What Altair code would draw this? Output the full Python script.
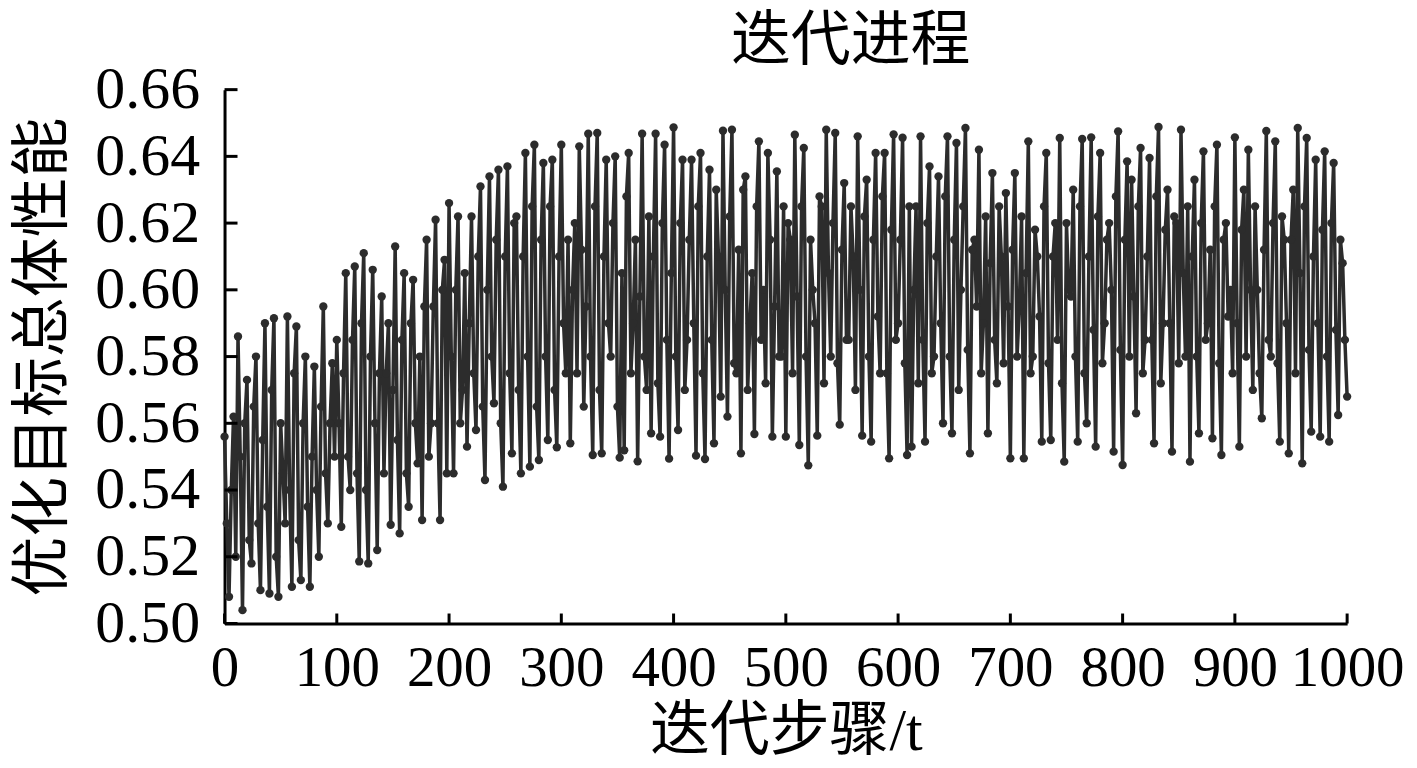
import altair as alt
import pandas as pd

# iteration performance values
# perf_XXX : values at steps XXX, XXX+4, ... (every 4 steps)
perf_000 = [0.556, 0.508, 0.562, 0.586, 0.504, 0.573, 0.518, 0.580, 0.510, 0.590,
            0.509, 0.5915, 0.508, 0.545, 0.592, 0.511, 0.589, 0.513, 0.580, 0.511,
            0.577, 0.520, 0.595, 0.530, 0.578]
perf_100 = [0.585, 0.529, 0.605, 0.540, 0.607, 0.5186, 0.611, 0.518, 0.606, 0.522,
            0.598, 0.575, 0.5296, 0.613, 0.527, 0.605, 0.535, 0.603, 0.548, 0.531,
            0.615, 0.560, 0.621, 0.531, 0.609]
perf_200 = [0.626, 0.545, 0.622, 0.570, 0.553, 0.622, 0.558, 0.631, 0.543, 0.634,
            0.566, 0.636, 0.541, 0.637, 0.551, 0.622, 0.545, 0.641, 0.547, 0.6435,
            0.549, 0.638, 0.555, 0.639, 0.5528]
perf_300 = [0.6435, 0.575, 0.554, 0.620, 0.643, 0.565, 0.6468, 0.5505, 0.647, 0.551,
            0.639, 0.580, 0.640, 0.5497, 0.5519, 0.641, 0.590, 0.5486, 0.6468, 0.570,
            0.557, 0.6468, 0.556, 0.6435, 0.5494]
perf_400 = [0.6487, 0.558, 0.639, 0.585, 0.639, 0.5503, 0.641, 0.5493, 0.636, 0.554,
            0.610, 0.6477, 0.562, 0.648, 0.575, 0.551, 0.634, 0.590, 0.5568, 0.6445,
            0.600, 0.641, 0.556, 0.6355, 0.580]
perf_500 = [0.556, 0.615, 0.6465, 0.5535, 0.6425, 0.5474, 0.600, 0.5563, 0.625, 0.648,
            0.580, 0.647, 0.5596, 0.632, 0.585, 0.610, 0.646, 0.5563, 0.633, 0.5545,
            0.641, 0.575, 0.641, 0.5495, 0.6466]
perf_600 = [0.590, 0.6456, 0.5505, 0.553, 0.625, 0.646, 0.5545, 0.637, 0.580, 0.634,
            0.560, 0.646, 0.557, 0.644, 0.600, 0.6485, 0.551, 0.615, 0.642, 0.590,
            0.557, 0.635, 0.572, 0.610, 0.629]
perf_700 = [0.5495, 0.635, 0.595, 0.5495, 0.6445, 0.580, 0.610, 0.5545, 0.641, 0.555,
            0.620, 0.6455, 0.5485, 0.600, 0.630, 0.5545, 0.6452, 0.560, 0.6457, 0.553,
            0.641, 0.590, 0.620, 0.5515, 0.6475]
perf_800 = [0.5475, 0.6385, 0.633, 0.563, 0.6425, 0.585, 0.6395, 0.554, 0.6488, 0.590,
            0.630, 0.5515, 0.620, 0.648, 0.580, 0.5485, 0.633, 0.557, 0.6415, 0.590,
            0.5555, 0.6435, 0.5505, 0.620, 0.600]
perf_900 = [0.6457, 0.553, 0.630, 0.642, 0.570, 0.600, 0.5615, 0.6476, 0.580, 0.6445,
            0.5545, 0.615, 0.551, 0.630, 0.6485, 0.548, 0.6455, 0.5575, 0.639, 0.556,
            0.6415, 0.5545, 0.638, 0.5625, 0.608, 0.568]

# mid_XXX : values at steps XXX+2, XXX+6, ... (in between the above)
mid_000 = [0.530, 0.540, 0.520, 0.550, 0.560, 0.525, 0.565, 0.530, 0.555, 0.535,
           0.570, 0.520, 0.560, 0.530, 0.540, 0.575, 0.525, 0.560, 0.535, 0.550,
           0.540, 0.565, 0.545, 0.560, 0.550]
mid_100 = [0.560, 0.575, 0.550, 0.585, 0.545, 0.590, 0.540, 0.580, 0.560, 0.575,
           0.545, 0.590, 0.570, 0.555, 0.585, 0.545, 0.590, 0.560, 0.580, 0.595,
           0.550, 0.595, 0.560, 0.600, 0.545]
mid_200 = [0.580, 0.600, 0.560, 0.605, 0.590, 0.575, 0.610, 0.565, 0.600, 0.580,
           0.615, 0.560, 0.610, 0.575, 0.620, 0.570, 0.610, 0.580, 0.625, 0.565,
           0.615, 0.580, 0.625, 0.570, 0.610]
mid_300 = [0.590, 0.615, 0.600, 0.575, 0.612, 0.595, 0.580, 0.625, 0.570, 0.610,
           0.590, 0.620, 0.565, 0.605, 0.628, 0.575, 0.615, 0.598, 0.580, 0.622,
           0.610, 0.572, 0.620, 0.585, 0.605]
mid_400 = [0.580, 0.620, 0.570, 0.615, 0.590, 0.625, 0.575, 0.610, 0.585, 0.630,
           0.568, 0.600, 0.622, 0.578, 0.612, 0.630, 0.570, 0.605, 0.625, 0.585,
           0.572, 0.615, 0.595, 0.580, 0.625]
mid_500 = [0.620, 0.575, 0.598, 0.625, 0.580, 0.615, 0.590, 0.628, 0.572, 0.605,
           0.620, 0.578, 0.612, 0.585, 0.625, 0.570, 0.600, 0.622, 0.580, 0.615,
           0.592, 0.628, 0.575, 0.618, 0.585]
mid_600 = [0.615, 0.578, 0.625, 0.600, 0.572, 0.585, 0.620, 0.575, 0.610, 0.590,
           0.628, 0.580, 0.615, 0.570, 0.625, 0.582, 0.612, 0.595, 0.575, 0.622,
           0.608, 0.585, 0.625, 0.578, 0.595]
mid_700 = [0.612, 0.580, 0.622, 0.605, 0.575, 0.618, 0.592, 0.625, 0.578, 0.610,
           0.585, 0.572, 0.620, 0.598, 0.580, 0.625, 0.575, 0.610, 0.588, 0.622,
           0.578, 0.615, 0.600, 0.628, 0.582]
mid_800 = [0.615, 0.580, 0.598, 0.625, 0.575, 0.610, 0.585, 0.628, 0.572, 0.618,
           0.590, 0.622, 0.578, 0.605, 0.625, 0.610, 0.580, 0.620, 0.585, 0.612,
           0.625, 0.578, 0.615, 0.592, 0.575]
mid_900 = [0.590, 0.618, 0.580, 0.600, 0.625, 0.575, 0.612, 0.585, 0.620, 0.578,
           0.622, 0.590, 0.615, 0.575, 0.605, 0.625, 0.582, 0.610, 0.590, 0.618,
           0.580, 0.620, 0.588, 0.615, 0.585]

y_ticks = [0.50, 0.52, 0.54, 0.56, 0.58, 0.60, 0.62, 0.64, 0.66]
x_ticks = [0, 100, 200, 300, 400, 500, 600, 700, 800, 900, 1000]

main_vals = (perf_000 + perf_100 + perf_200 + perf_300 + perf_400 +
             perf_500 + perf_600 + perf_700 + perf_800 + perf_900)
mid_vals = (mid_000 + mid_100 + mid_200 + mid_300 + mid_400 +
            mid_500 + mid_600 + mid_700 + mid_800 + mid_900)

rows = []
for i, v in enumerate(main_vals):
    rows.append((i * 4, v))
    if i < len(mid_vals):
        rows.append((i * 4 + 2, mid_vals[i]))
df = pd.DataFrame(rows, columns=["t", "v"])
df_yt = pd.DataFrame({"y": y_ticks})
df_xt = pd.DataFrame({"x": x_ticks})

W, H = 1125, 535
SERIF = "Liberation Serif, Times New Roman, Noto Sans CJK SC"
LINE = "#2c2c2c"

xscale = alt.Scale(domain=[0, 1000], nice=False, zero=False)
yscale = alt.Scale(domain=[0.50, 0.66], nice=False, zero=False)

xaxis = alt.Axis(values=x_ticks, format="d", ticks=False, grid=False,
                 domainColor="black", domainWidth=3, labelFont=SERIF,
                 labelFontSize=57, labelColor="black", labelPadding=17,
                 labelFlush=False, labelOverlap=False,
                 title="迭代步骤/t", titleFont=SERIF, titleFontSize=60,
                 titleFontWeight="normal", titleColor="black", titlePadding=6)
yaxis = alt.Axis(values=y_ticks, format=".2f", ticks=False, grid=False,
                 domainColor="black", domainWidth=3, labelFont=SERIF,
                 labelFontSize=60, labelColor="black", labelPadding=25,
                 labelFlush=False, labelOverlap=False,
                 title="优化目标总体性能", titleFont=SERIF, titleFontSize=60,
                 titleFontWeight="normal", titleColor="black", titlePadding=20)

line = alt.Chart(df).mark_line(color=LINE, strokeWidth=3.5).encode(
    x=alt.X("t:Q", scale=xscale, axis=xaxis),
    y=alt.Y("v:Q", scale=yscale, axis=yaxis),
)
pts = alt.Chart(df).mark_circle(color=LINE, opacity=1, size=70).encode(
    x=alt.X("t:Q", scale=xscale),
    y=alt.Y("v:Q", scale=yscale),
)
ytick_marks = alt.Chart(df_yt).mark_rule(color="black", strokeWidth=3).encode(
    y=alt.Y("y:Q", scale=yscale),
    x=alt.value(0),
    x2=alt.value(13),
)
xtick_marks = alt.Chart(df_xt).mark_rule(color="black", strokeWidth=3).encode(
    x=alt.X("x:Q", scale=xscale),
    y=alt.value(H),
    y2=alt.value(H - 10),
)

chart = alt.layer(line, pts, ytick_marks, xtick_marks).properties(
    width=W,
    height=H,
    background="white",
    title=alt.TitleParams("迭代进程", font=SERIF, fontSize=60, fontWeight="normal",
                          color="black", anchor="middle", dx=65, offset=-13),
    autosize=alt.AutoSizeParams(type="none"),
    padding={"left": 217, "top": 81, "right": 62, "bottom": 142},
).configure_view(stroke="transparent", strokeWidth=0)

chart.save("out.html", embed_options={"renderer": "svg", "actions": False})
